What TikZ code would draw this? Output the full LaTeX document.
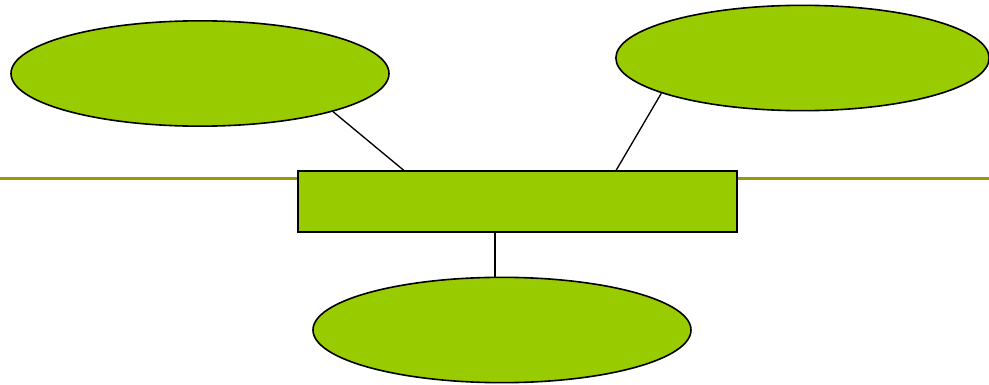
\documentclass[tikz,border=0pt]{standalone}
\usetikzlibrary{shapes.geometric,calc}
\definecolor{leafgreen}{HTML}{99CC00}
\definecolor{olivebar}{HTML}{999900}

\begin{document}
\begin{tikzpicture}[x=0.75pt, y=-0.75pt,
bubble/.style={draw, ellipse, fill=leafgreen, line width=1.2pt, inner sep=0pt, minimum width=283.5pt, minimum height=79pt},
panel/.style={draw, rectangle, fill=leafgreen, line width=1.2pt, inner sep=0pt, minimum width=329.25pt, minimum height=45.75pt},
link/.style={line width=1pt}]
\useasboundingbox (0,0) rectangle (989,385);

\coordinate (barL) at (0,178.5);
\coordinate (barR) at (989,178.5);
\draw[olivebar, line width=2.4pt] (barL) -- (barR);

\node[bubble] (left) at (200,73.5) {};
\node[bubble, minimum width=280pt] (right) at (802.5,58) {};
\node[panel] (hub) at (517.5,201.5) {};
\node[bubble] (bottom) at (502,330) {};

\coordinate (hubA) at ($(hub.north west)!0.2415!(hub.north east)$);
\coordinate (hubB) at ($(hub.north west)!0.724!(hub.north east)$);
\coordinate (hubC) at ($(hub.south west)!0.449!(hub.south east)$);
\draw[link] (left.-16.5) -- (hubA);
\draw[link] (right.-166.3) -- (hubB);
\draw[link] (hubC) -- (hubC |- bottom.north);
\end{tikzpicture}
\end{document}
